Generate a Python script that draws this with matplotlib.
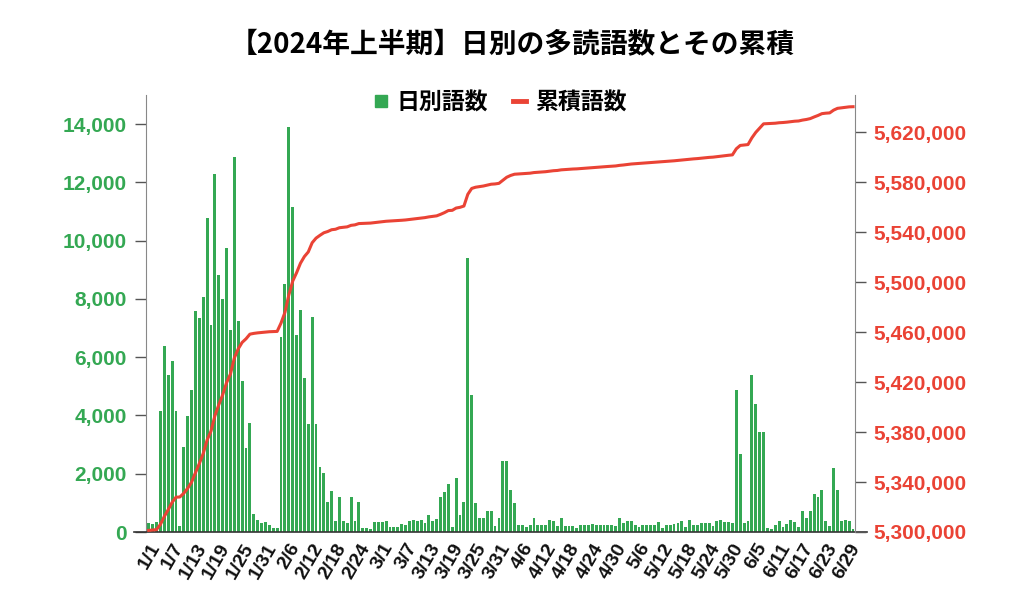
import numpy as np
import pandas as pd
import matplotlib
matplotlib.use('Agg')
import matplotlib.pyplot as plt
from matplotlib.lines import Line2D
from matplotlib.ticker import FuncFormatter

plt.rcParams['font.family'] = ['Liberation Sans', 'Noto Sans CJK JP', 'DejaVu Sans']

# ---- data (daily words read) ----
daily_jan = [300, 260, 330, 4150, 6380, 5390, 5880, 4160, 200, 2930, 3990, 4870, 7600, 7330,
             8080, 10790, 7100, 12280, 8820, 8000, 9760, 6930, 12860, 7250, 5180, 2900, 3730,
             620, 420, 320, 350]
daily_feb = [240, 125, 125, 6700, 8510, 13890, 11170, 6760, 7620, 5300, 3700, 7370, 3700, 2240,
             2040, 1020, 1420, 390, 1210, 390, 320, 1210, 390, 1020, 150, 150, 100, 355, 355]
daily_mar = [355, 390, 180, 160, 180, 275, 250, 380, 410, 365, 410, 320, 580, 380, 450, 1210,
             1370, 1650, 180, 1840, 580, 1020, 9400, 4700, 980, 480, 480, 720, 720, 220, 480]
daily_apr = [2440, 2440, 1440, 980, 230, 230, 160, 230, 485, 230, 230, 230, 410, 380, 205, 490,
             220, 220, 220, 125, 250, 230, 230, 285, 230, 230, 230, 230, 230, 195]
daily_may = [470, 300, 390, 390, 230, 170, 230, 230, 230, 230, 355, 150, 230, 230, 285, 320,
             380, 185, 425, 230, 230, 320, 320, 320, 195, 390, 410, 355, 355, 320, 4870]
daily_jun = [2670, 320, 380, 5390, 4380, 3420, 3420, 150, 115, 230, 380, 185, 285, 410, 345,
             185, 710, 490, 710, 1315, 1210, 1440, 380, 220, 2210, 1440, 390, 425, 380, 115]

cum_start = 5_301_000  # running total before 1/1

start_date = '2024-01-01'
end_date = '2024-06-30'
tick_step = 6

title = '【2024年上半期】日別の多読語数とその累積'
series_daily = '日別語数'
series_cum = '累積語数'

GREEN = '#34A853'
RED = '#EA4335'

daily = np.array(daily_jan + daily_feb + daily_mar + daily_apr + daily_may + daily_jun)
dates = pd.date_range(start_date, end_date)
labels = [f'{d.month}/{d.day}' for d in dates]
x = np.arange(len(daily))
cum = cum_start + np.cumsum(daily)

fig = plt.figure(figsize=(10.24, 6.14), dpi=100)
ax = fig.add_axes([146 / 1024, 1 - 532 / 614, (855 - 146) / 1024, (532 - 95) / 614])
ax.bar(x, daily, width=0.74, color=GREEN, zorder=2)
ax.set_xlim(-0.7, len(daily) - 0.5)
ax.set_ylim(0, 15000)
ax.set_yticks(range(0, 14001, 2000))
ax.yaxis.set_major_formatter(FuncFormatter(lambda v, p: f'{int(v):,}'))
ax.set_xticks(x[::tick_step])
ax.set_xticklabels(labels[::tick_step], rotation=60, ha='right', rotation_mode='anchor',
                   fontweight='bold', fontsize=14, color='#111111')
ax.tick_params(axis='x', length=0, pad=6)
ax.tick_params(axis='y', length=8, width=1, color='#555555', labelsize=15,
               labelcolor=GREEN, pad=6)
for lab in ax.get_yticklabels():
    lab.set_fontweight('bold')
for s in ['top', 'right', 'bottom']:
    ax.spines[s].set_visible(False)
ax.spines['left'].set_color('#888888')
ax.plot([-0.017, 1.017], [0, 0], transform=ax.transAxes, clip_on=False,
        color='#333333', lw=1.2, zorder=5)

ax2 = ax.twinx()
ax2.plot(x, cum, color=RED, lw=2.2, zorder=3)
ax2.set_ylim(5_300_000, 5_650_000)
ax2.set_yticks(range(5_300_000, 5_620_001, 40_000))
ax2.yaxis.set_major_formatter(FuncFormatter(lambda v, p: f'{int(v):,}'))
ax2.tick_params(axis='y', length=8, width=1, color='#555555', labelsize=15,
                labelcolor=RED, pad=5)
for lab in ax2.get_yticklabels():
    lab.set_fontweight('bold')
for s in ['top', 'left', 'bottom']:
    ax2.spines[s].set_visible(False)
ax2.spines['right'].set_color('#888888')

handles = [Line2D([], [], marker='s', color=GREEN, linestyle='none', markersize=9),
           Line2D([], [], color=RED, lw=3.5)]
leg = ax2.legend(handles, [series_daily, series_cum], loc='center',
                 bbox_to_anchor=(0.5, (532 - 103) / (532 - 95)), ncol=2, frameon=False,
                 prop={'family': ['Noto Sans CJK JP'], 'weight': 'bold', 'size': 16.5},
                 handlelength=0.55, handletextpad=0.4, columnspacing=1.1)

fig.text(0.5, 1 - 45 / 614, title, ha='center', va='center', fontsize=20,
         fontweight='bold', family=['Noto Sans CJK JP', 'DejaVu Sans'])

fig.savefig('out.png', dpi=100, facecolor='white')
